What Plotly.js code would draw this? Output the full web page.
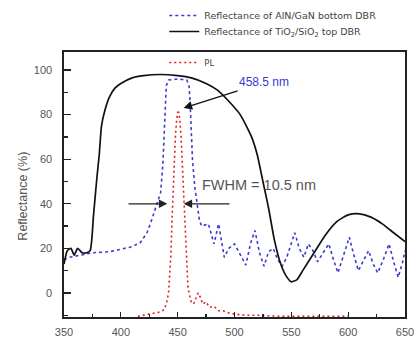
<!DOCTYPE html>
<html>
<head>
<meta charset="utf-8">
<script src="https://cdn.plot.ly/plotly-3.0.1.min.js"></script>
<style>html,body{margin:0;padding:0;background:#fff;}#chart{width:418px;height:340px;}</style>
</head>
<body>
<div id="chart"></div>
<script>
// Reflectance of TiO2/SiO2 top DBR (black)
const topX = [350,353,356,359,362,366,370,373,376,379,381,383,386,390,395,400,410,420,435,450,462,475,485,495,505,515,520,525,530,535,540,545,550,555,560,570,580,590,600,610,620,630,640,650];
const topY = [13,19,20,17,20,18,18,19,35,52,62,75,82,88,92,94,96.5,97.5,98,97.5,96.5,94,91,86,80,70,62,50,38,24,14,8,5,6,10,18,26,32,35,35.5,34,31,27,23];

// Reflectance of AlN/GaN bottom DBR (blue dashed)
const botX = [350,355,365,375,390,400,408,417,423,426,429,432,435,437,438,439,440,442,450,458,460,461,462,463,465,467,469,471,477,482,486,491,495,500,505,510,514,518,522,526,530,534,538,542,546,550,553,557,561,565,569,573,578,583,587,591,596,601,605,609,614,618,622,626,631,636,640,644,648,650];
const botY = [15,16,17,18,18.5,19.5,20.5,22.5,27,31,36,40,45,58,70,85,93,95.5,96,95.5,93,85,70,60,48,40,33,30,31,22,31,16,20,22,17,12.5,22,28,18,12,18.5,20,15,12,16,22,27,20,16,22,19,14,18,22,15,9,17,25,17,10,15,19,13,9,15,22,14,7,14,19];

// PL (red dotted)
const plX = [415,420,425,430,435,438,440,442,443,444,445,446,447,448,449,450,451,452,453,454,455,456,457,458,459,460,462,464,466,468,470,472,475,478,482,486,490,495,500,510,520,540,560,580,600];
const plY = [-10.5,-10,-9.5,-9,-8.5,-7.5,-5,0,7,17,32,48,60,70,77,81,81,77,70,58,44,32,20,10,3,0,-4,-5,-2,0,-2,-5,-4,-6.5,-6,-8,-8,-9,-9.5,-10,-10,-10.5,-10.5,-10.5,-10.5];

const xTicks = [350,400,450,500,550,600,650];
const yTicks = [0,20,40,60,80,100];

const peakLabel = '458.5 nm';
const fwhmLabel = 'FWHM = 10.5 nm';

const data = [
  {x: botX, y: botY, type: 'scatter', mode: 'lines', name: 'Reflectance of AlN/GaN bottom DBR',
   line: {color: '#3b3bd4', width: 1.6, dash: '3px,3px'}, legend: 'legend'},
  {x: topX, y: topY, type: 'scatter', mode: 'lines', name: 'Reflectance of TiO<sub>2</sub>/SiO<sub>2</sub> top DBR',
   line: {color: '#111111', width: 1.7, shape: 'spline', smoothing: 0.6}, legend: 'legend3'},
  {x: plX, y: plY, type: 'scatter', mode: 'lines', name: 'PL',
   line: {color: '#e02020', width: 1.6, dash: '2px,3px'}, legend: 'legend2'}
];

const tickFont = {family: 'Liberation Sans, Arial, sans-serif', size: 11, color: '#555'};
const legFont = {family: 'DejaVu Sans, sans-serif', size: 9.5, color: '#444'};

const layout = {
  width: 418, height: 340,
  margin: {l: 64, r: 13, t: 52, b: 23, autoexpand: false},
  paper_bgcolor: '#fff', plot_bgcolor: '#fff',
  showlegend: true,
  xaxis: {
    range: [350, 650], tickvals: xTicks, ticktext: xTicks.map(String),
    ticks: 'inside', ticklen: 5, tickwidth: 1.2, tickcolor: '#222',
    showline: true, mirror: true, linecolor: '#222', linewidth: 1.6,
    showgrid: false, zeroline: false, tickfont: tickFont, ticklabelstandoff: 4, automargin: false,
    minor: {dtick: 25, tick0: 350, ticks: 'inside', ticklen: 3, tickcolor: '#222', showgrid: false}
  },
  yaxis: {
    range: [-10.8, 108.1], tickvals: yTicks, ticktext: yTicks.map(String),
    ticks: 'inside', ticklen: 7, tickwidth: 1.2, tickcolor: '#222',
    showline: true, mirror: true, linecolor: '#222', linewidth: 1.6,
    showgrid: false, zeroline: false, tickfont: tickFont, ticklabelstandoff: 8, automargin: false,
    minor: {dtick: 10, tick0: 0, ticks: 'inside', ticklen: 4, tickcolor: '#222', showgrid: false}
  },
  legend: {
    xref: 'container', yref: 'container',
    x: 0.393, y: 0.997, xanchor: 'left', yanchor: 'top',
    bgcolor: 'rgba(0,0,0,0)', borderwidth: 0, font: legFont, itemwidth: 30
  },
  legend3: {
    xref: 'container', yref: 'container',
    x: 0.393, y: 0.950, xanchor: 'left', yanchor: 'top',
    bgcolor: 'rgba(0,0,0,0)', borderwidth: 0, font: legFont, itemwidth: 30
  },
  legend2: {
    xref: 'container', yref: 'container',
    x: 0.393, y: 0.859, xanchor: 'left', yanchor: 'top',
    bgcolor: 'rgba(0,0,0,0)', borderwidth: 0,
    font: {family: 'DejaVu Sans, sans-serif', size: 8.5, color: '#444'}, itemwidth: 30
  },
  annotations: [
    {xref: 'paper', yref: 'paper', x: -0.121, y: 0.457, xanchor: 'center', yanchor: 'middle',
     text: 'Reflectance (%)', textangle: -90,
     showarrow: false, font: {family: 'Liberation Sans, Arial, sans-serif', size: 12.5, color: '#555'}},
    {x: 455.3, y: 83, xref: 'x', yref: 'y', axref: 'x', ayref: 'y', ax: 526, ay: 94.5,
     text: peakLabel, showarrow: true, arrowhead: 2, arrowsize: 1.3, arrowwidth: 1.3, arrowcolor: '#111',
     font: {family: 'Liberation Sans, Arial, sans-serif', size: 12, color: '#3b3bd4'}},
    {x: 521.7, y: 48.4, xref: 'x', yref: 'y', text: fwhmLabel, showarrow: false,
     font: {family: 'Liberation Sans, Arial, sans-serif', size: 14.5, color: '#555'}},
    {x: 440.9, y: 40, xref: 'x', yref: 'y', axref: 'x', ayref: 'y', ax: 405.5, ay: 40, text: '',
     showarrow: true, arrowhead: 2, arrowsize: 1.3, arrowwidth: 1.3, arrowcolor: '#222'},
    {x: 455.3, y: 40, xref: 'x', yref: 'y', axref: 'x', ayref: 'y', ax: 496.9, ay: 40, text: '',
     showarrow: true, arrowhead: 2, arrowsize: 1.3, arrowwidth: 1.3, arrowcolor: '#222'}
  ]
};

Plotly.newPlot('chart', data, layout, {displayModeBar: false, staticPlot: true});
</script>
</body>
</html>
